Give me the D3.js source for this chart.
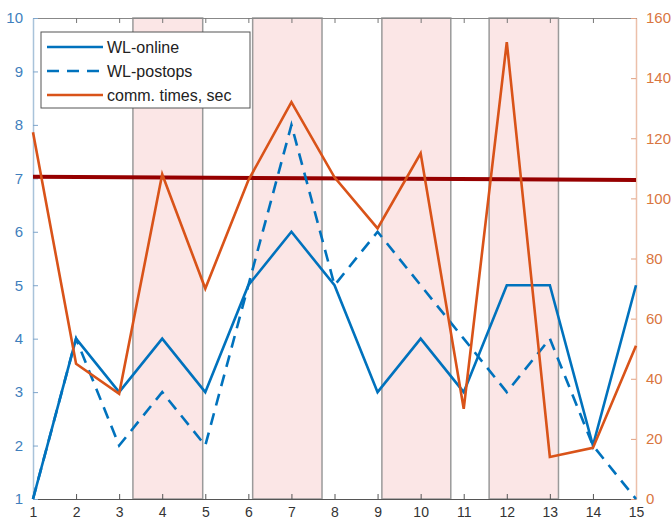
<!DOCTYPE html>
<html><head><meta charset="utf-8">
<script src="https://cdn.jsdelivr.net/npm/d3@7"></script>
<style>body{margin:0;background:#fff}svg{display:block;font-family:"Liberation Sans",Arial,sans-serif}</style>
</head><body>
<svg id="c" width="671" height="521"></svg>
<script>
const xs = [1,2,3,4,5,6,7,8,9,10,11,12,13,14,15];
const wlOnline = [1,4,3,4,3,5,6,5,3,4,3,5,5,2,5];
const wlPostops = [1,4,2,3,2,5,8,5,6,5,4,3,4,2,1];
const commTimes = [122,45,35,108,70,106,132,107,90,115,30,152,14,17,51];
const bands = [[3.32,4.94],[6.10,7.71],[9.10,10.70],[11.59,13.20]];
const refLine = [[1,7.03],[15,6.97]];
const xTicks = [1,2,3,4,5,6,7,8,9,10,11,12,13,14,15];
const yLeftTicks = [1,2,3,4,5,6,7,8,9,10];
const yRightTicks = [0,20,40,60,80,100,120,140,160];
const legendLabels = ["WL-online","WL-postops","comm. times, sec"];

const W=671,H=521,m={l:33,r:35,t:18,b:22};
const svg=d3.select("#c");
const x=d3.scaleLinear().domain([1,15]).range([m.l,W-m.r]);
const yL=d3.scaleLinear().domain([1,10]).range([H-m.b,m.t]);
const yR=d3.scaleLinear().domain([0,160]).range([H-m.b,m.t]);
const blue="#0072BD",orange="#D95319";

// bands
svg.append("g").selectAll("rect").data(bands).join("rect")
  .attr("x",d=>x(d[0])).attr("width",d=>x(d[1])-x(d[0]))
  .attr("y",m.t).attr("height",H-m.b-m.t)
  .attr("fill","#fbe6e6").attr("stroke","#9a9a9a").attr("stroke-width",1.5);

// axes
const fs="15px";
const gx=svg.append("g").attr("transform",`translate(0,${H-m.b})`)
  .call(d3.axisBottom(x).tickValues(xTicks).tickSizeInner(-5).tickSizeOuter(0).tickPadding(8));
gx.select(".domain").attr("stroke","#555");
gx.selectAll(".tick line").attr("stroke","#555");
gx.selectAll("text").attr("font-size","14px").attr("fill","#333");
const gxt=svg.append("g").attr("transform",`translate(0,${m.t})`)
  .call(d3.axisTop(x).tickValues(xTicks).tickSizeInner(-5).tickSizeOuter(0).tickFormat(""));
gxt.select(".domain").attr("stroke","#888");
gxt.selectAll(".tick line").attr("stroke","#777");

const gl=svg.append("g").attr("transform",`translate(${m.l},0)`)
  .call(d3.axisLeft(yL).tickValues(yLeftTicks).tickSizeInner(-5).tickSizeOuter(0).tickPadding(10));
gl.select(".domain").attr("stroke","#a9c3da").attr("stroke-width",1.5);
gl.selectAll(".tick line").attr("stroke","#7fa6cc");
gl.selectAll("text").attr("font-size",fs).attr("fill","#3f7fbd");

const gr=svg.append("g").attr("transform",`translate(${W-m.r},0)`)
  .call(d3.axisRight(yR).tickValues(yRightTicks).tickSizeInner(-5).tickSizeOuter(0).tickPadding(10));
gr.select(".domain").attr("stroke","#ecc0aa").attr("stroke-width",1.5);
gr.selectAll(".tick line").attr("stroke","#e0a080");
gr.selectAll("text").attr("font-size",fs).attr("fill","#d9763f");

// reference line
svg.append("path").datum(refLine)
  .attr("d",d3.line().x(d=>x(d[0])).y(d=>yL(d[1])))
  .attr("stroke","#960000").attr("stroke-width",4).attr("fill","none");

const lineL=d3.line().x((d,i)=>x(xs[i])).y(d=>yL(d));
const lineR=d3.line().x((d,i)=>x(xs[i])).y(d=>yR(d));
svg.append("path").datum(wlPostops).attr("d",lineL).attr("fill","none")
  .attr("stroke",blue).attr("stroke-width",2.6).attr("stroke-dasharray","12,8");
svg.append("path").datum(wlOnline).attr("d",lineL).attr("fill","none")
  .attr("stroke",blue).attr("stroke-width",2.6).attr("stroke-linejoin","miter");
svg.append("path").datum(commTimes).attr("d",lineR).attr("fill","none")
  .attr("stroke",orange).attr("stroke-width",2.6);

// legend
const lg=svg.append("g");
lg.append("rect").attr("x",41).attr("y",32).attr("width",209).attr("height",76)
  .attr("fill","#fff").attr("stroke","#555").attr("stroke-width",1);
const styles=[{c:blue,d:null},{c:blue,d:"12,8"},{c:orange,d:null}];
legendLabels.forEach((t,i)=>{
  const yy=47+i*24;
  lg.append("line").attr("x1",47).attr("x2",103).attr("y1",yy).attr("y2",yy)
    .attr("stroke",styles[i].c).attr("stroke-width",2.6).attr("stroke-dasharray",styles[i].d);
  lg.append("text").attr("x",107).attr("y",yy).attr("dy","0.35em")
    .attr("font-size","16px").attr("fill","#222").text(t);
});
</script>
</body></html>
